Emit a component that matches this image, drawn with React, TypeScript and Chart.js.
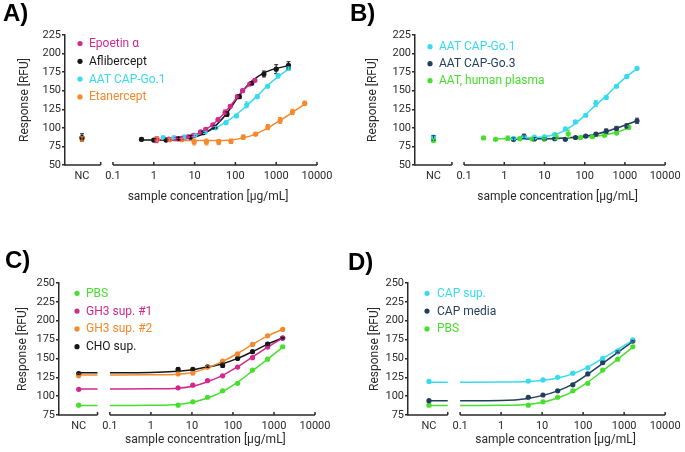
import React, { useEffect, useRef } from "react";
import { Chart, registerables } from "chart.js";

Chart.register(...registerables);

// ---------------- shared axis data ----------------
const X_TICKS = [0.1, 1, 10, 100, 1000, 10000];
const NC_LABEL = "NC";
const NC_X = 0.0174; // where the NC category sits on the log axis
const BREAK_X = 0.05; // end of the NC axis segment
const GAP_X = 0.07; // break in the fitted curves
const X_TITLE = "sample concentration [µg/mL]";
const Y_TITLE = "Response [RFU]";

// ---------------- colours ----------------
const C_MAGENTA = "#d3298d";
const C_BLACK = "#161616";
const C_CYAN = "#36dbef";
const C_ORANGE = "#f5892c";
const C_NAVY = "#233f5d";
const C_GREEN = "#47df2d";

// ---------------- Panel A ----------------
const A_EPO_X = [1.17, 2.34, 3.5, 4.7, 7, 9.4, 14, 18.8, 28, 37.5, 56, 75, 112, 150, 225, 300];
const A_EPO_Y = [84, 85, 85.5, 86, 88, 90, 94.5, 98, 104, 111, 121, 129, 142, 150, 159, 164];
const A_EPO_ERR = [4, 2, 2, 2, 2, 2, 2, 2, 2, 2, 3, 2, 2, 2, 2, 2];
const A_EPO_FIT = [84, 84.7, 85.4, 86.2, 88, 90, 94, 98, 104.5, 111, 121, 129.5, 141.5, 149.5, 158.5, 164];

const A_AFLI_X = [0.5, 1, 2, 4, 8, 16, 31.25, 62.5, 125, 250, 500, 1000, 2000];
const A_AFLI_Y = [84.5, 83.5, 83.5, 85.5, 87.5, 93.5, 100.5, 118.5, 142, 160, 172.5, 179, 184];
const A_AFLI_ERR = [2, 2, 1.5, 1.5, 2, 2, 2.5, 3, 2.5, 2, 4, 6, 5];
const A_AFLI_FIT = [83.5, 83.5, 83.8, 84.6, 86.5, 91.5, 102, 120, 144, 162.5, 174, 180, 183.5];
const A_AFLI_NC = 87;
const A_AFLI_NC_ERR = 5;

const CAP1_X = [1.7, 3.1, 5.6, 10, 18, 33, 59, 106, 190, 343, 617, 1111, 2000];
const A_CAP1_Y = [87, 87, 88, 90, 94, 100, 107, 116, 131, 142, 156, 170, 180];
const A_CAP1_ERR = [1.5, 1.5, 1.5, 1.5, 1.5, 2, 2, 2, 4, 2, 2, 3, 2];
const A_CAP1_FIT = [86.5, 87, 88, 90, 94, 100, 108, 118, 130, 143, 157, 169, 179];

const A_ETA_X = [1.22, 2.44, 4.88, 9.77, 19.5, 39, 78, 156, 312, 625, 1250, 2500, 5000];
const A_ETA_Y = [85, 84, 84, 81, 81, 81, 82, 87.5, 91.5, 101, 110, 121.5, 133];
const A_ETA_ERR = [3, 2, 2, 4, 4, 3.5, 3, 3, 1.5, 3.5, 4, 3.5, 3];
const A_ETA_FIT = [83.3, 83.2, 83, 82.9, 82.9, 83, 83.8, 86.5, 91.5, 100, 110, 121, 132];
const A_ETA_NC = 85;
const A_ETA_NC_ERR = 3;

// ---------------- Panel B ----------------
const B_CAP1_Y = [86, 87, 87.5, 88, 91, 98.5, 108, 117, 133, 141, 156, 169, 180];
const B_CAP1_ERR = [1.5, 1.5, 1.5, 1.5, 1.5, 2, 2, 2, 4, 2, 2, 2, 1.5];
const B_CAP1_FIT = [86, 86.5, 87, 88, 91, 97, 106, 118, 131, 143, 157, 169, 180];
const B_CAP1_NC = 87.5;
const B_CAP1_NC_ERR = 2;

const B_CAP3_Y = [84.5, 88.5, 85, 85.5, 85.5, 84.5, 87, 89, 91.5, 95.5, 99, 102.5, 109.5];
const B_CAP3_ERR = [2, 3, 2, 1.5, 1.5, 1.5, 1.5, 1.5, 2, 3, 3, 3, 3.5];
const B_CAP3_FIT = [85, 85.1, 85.2, 85.4, 85.8, 86.5, 87.5, 89, 91.5, 95, 99.5, 104.5, 109.5];
const B_CAP3_NC = 86.5;
const B_CAP3_NC_ERR = 3;

const B_PLASMA_X = [0.305, 0.61, 1.22, 2.44, 4.88, 9.77, 19.5, 39, 78, 156, 312, 625, 1250];
const B_PLASMA_Y = [86.5, 84.5, 86, 85.5, 85, 85, 88, 92, 87, 88, 90, 93, 100.5];
const B_PLASMA_ERR = [1.5, 1.5, 3, 1.5, 1.5, 1.5, 4, 5, 1.5, 1.5, 1.5, 2, 2];
const B_PLASMA_FIT_X = [0.61, 1.22, 2.44, 4.88, 9.77, 19.5, 39, 78, 156, 312, 625, 1250];
const B_PLASMA_FIT = [85.5, 85.5, 85.5, 85.5, 85.6, 85.8, 86.2, 87, 88.3, 90.5, 94, 100];
const B_PLASMA_NC = 83;
const B_PLASMA_NC_ERR = 2;

// ---------------- Panels C & D ----------------
const CD_X = [4.6, 10.5, 24, 56, 130, 300, 700, 1630];
const CD_FIT_X = [0.1, 1, 4.6, 10.5, 24, 56, 130, 300, 700, 1630];

const PBS_Y = [88, 92.5, 98.5, 107, 117, 134.5, 149, 165.5];
const PBS_ERR = [1, 1, 1, 1, 1, 1, 1, 1];
const PBS_NC = 88;
const PBS_FIT = [87.5, 87.8, 89, 92, 97.5, 106, 118.5, 133.5, 149, 165];
const PBS_FIT_NC = 87.5;

const C_GH1_Y = [111, 114.5, 120.5, 127, 138.5, 151, 165, 177];
const C_GH1_ERR = [1, 1, 1, 1, 1, 1, 1.5, 1];
const C_GH1_NC = 109;
const C_GH1_FIT = [109.5, 109.7, 110.5, 113, 119, 127.5, 139, 152, 165, 177];
const C_GH1_FIT_NC = 109.5;

const C_GH2_Y = [129.5, 131, 138.5, 146.5, 156, 168.5, 180, 188.5];
const C_GH2_ERR = [2, 3, 1, 1, 1, 1, 1, 1];
const C_GH2_NC = 127;
const C_GH2_FIT = [128, 128.2, 129, 131.5, 137.5, 146, 156.5, 168.5, 180, 188.5];
const C_GH2_FIT_NC = 128;

const C_CHO_Y = [135.5, 135.5, 139, 141, 150, 159, 169, 177];
const C_CHO_ERR = [2, 1.5, 1, 3, 1, 1, 2, 1];
const C_CHO_NC = 130;
const C_CHO_FIT = [131, 131.3, 133, 135, 138.5, 143, 150, 159, 169, 177];
const C_CHO_FIT_NC = 131;

const D_SUP_Y = [120, 121.5, 125, 130.5, 137.5, 150, 160, 174.5];
const D_SUP_ERR = [2, 1, 1, 1, 1, 1.5, 1, 1];
const D_SUP_NC = 119.5;
const D_SUP_FIT = [118.5, 118.7, 119.5, 121, 124, 129.5, 138.5, 150, 162, 174];
const D_SUP_FIT_NC = 118.5;

const D_MEDIA_Y = [98.5, 101.5, 107, 115, 129.5, 144.5, 159, 173];
const D_MEDIA_ERR = [1, 1, 1, 1, 1, 2, 1, 1];
const D_MEDIA_NC = 94;
const D_MEDIA_FIT = [94, 94.3, 97, 101, 107, 116, 129, 143.5, 158, 172.5];
const D_MEDIA_FIT_NC = 94;

// ---------------- specs ----------------
const FONT_FAMILY = "Roboto, 'Noto Sans', sans-serif";
const AXIS_COLOR = "#2a2a2a";
const TEXT_COLOR = "#2a2a2a";

interface SeriesSpec {
  label: string;
  color: string;
  x: number[];
  y: number[];
  err: number[];
  ncY: number | null;
  ncErr: number;
  fitX: number[];
  fitY: number[];
  fitNC: number | null;
}

interface PanelSpec {
  label: string;
  series: SeriesSpec[];
  yMin: number;
  yMax: number;
  xMin: number;
  box: { left: number; top: number; width: number; height: number };
  padL: number;
  padT: number;
  padR: number;
  titlePB: number;
  yWidth: number;
  yTitlePad: number;
  xAxisH: number;
  xTitleY: number;
  legendDot: number;
  legendText: number;
  legendY: number;
  legendGap: number;
}

const s = (
  label: string,
  color: string,
  x: number[],
  y: number[],
  err: number[],
  ncY: number | null,
  ncErr: number,
  fitX: number[],
  fitY: number[],
  fitNC: number | null
): SeriesSpec => ({ label, color, x, y, err, ncY, ncErr, fitX, fitY, fitNC });

const PANELS: PanelSpec[] = [
  {
    label: "A)",
    series: [
      s("Epoetin α", C_MAGENTA, A_EPO_X, A_EPO_Y, A_EPO_ERR, null, 0, A_EPO_X, A_EPO_FIT, null),
      s("Aflibercept", C_BLACK, A_AFLI_X, A_AFLI_Y, A_AFLI_ERR, A_AFLI_NC, A_AFLI_NC_ERR, A_AFLI_X, A_AFLI_FIT, null),
      s("AAT CAP-Go.1", C_CYAN, CAP1_X, A_CAP1_Y, A_CAP1_ERR, null, 0, CAP1_X, A_CAP1_FIT, null),
      s("Etanercept", C_ORANGE, A_ETA_X, A_ETA_Y, A_ETA_ERR, A_ETA_NC, A_ETA_NC_ERR, A_ETA_X, A_ETA_FIT, null),
    ],
    yMin: 50,
    yMax: 225,
    xMin: 0.00667,
    box: { left: 0, top: 0, width: 342, height: 226 },
    padL: 3,
    padT: 0,
    padR: 25,
    titlePB: 6.2,
    yWidth: 62,
    yTitlePad: 14.8,
    xAxisH: 61,
    xTitleY: 197,
    legendDot: 15,
    legendText: 24,
    legendY: 8.5,
    legendGap: 17.8,
  },
  {
    label: "B)",
    series: [
      s("AAT CAP-Go.1", C_CYAN, CAP1_X, B_CAP1_Y, B_CAP1_ERR, B_CAP1_NC, B_CAP1_NC_ERR, CAP1_X, B_CAP1_FIT, null),
      s("AAT CAP-Go.3", C_NAVY, CAP1_X, B_CAP3_Y, B_CAP3_ERR, B_CAP3_NC, B_CAP3_NC_ERR, CAP1_X, B_CAP3_FIT, null),
      s("AAT, human plasma", C_GREEN, B_PLASMA_X, B_PLASMA_Y, B_PLASMA_ERR, B_PLASMA_NC, B_PLASMA_NC_ERR, B_PLASMA_FIT_X, B_PLASMA_FIT, null),
    ],
    yMin: 50,
    yMax: 225,
    xMin: 0.00603,
    box: { left: 342, top: 0, width: 343, height: 226 },
    padL: 8,
    padT: 0,
    padR: 19,
    titlePB: 6.2,
    yWidth: 65,
    yTitlePad: 15.8,
    xAxisH: 61,
    xTitleY: 197,
    legendDot: 15,
    legendText: 24,
    legendY: 11.7,
    legendGap: 17,
  },
  {
    label: "C)",
    series: [
      s("PBS", C_GREEN, CD_X, PBS_Y, PBS_ERR, PBS_NC, 1, CD_FIT_X, PBS_FIT, PBS_FIT_NC),
      s("GH3 sup. #1", C_MAGENTA, CD_X, C_GH1_Y, C_GH1_ERR, C_GH1_NC, 1, CD_FIT_X, C_GH1_FIT, C_GH1_FIT_NC),
      s("GH3 sup. #2", C_ORANGE, CD_X, C_GH2_Y, C_GH2_ERR, C_GH2_NC, 1, CD_FIT_X, C_GH2_FIT, C_GH2_FIT_NC),
      s("CHO sup.", C_BLACK, CD_X, C_CHO_Y, C_CHO_ERR, C_CHO_NC, 1.5, CD_FIT_X, C_CHO_FIT, C_CHO_FIT_NC),
    ],
    yMin: 75,
    yMax: 250,
    xMin: 0.00575,
    box: { left: 0, top: 226, width: 342, height: 226 },
    padL: 5,
    padT: 21.1,
    padR: 27,
    titlePB: 7.1,
    yWidth: 54,
    yTitlePad: 10.8,
    xAxisH: 37,
    xTitleY: 214,
    legendDot: 18,
    legendText: 27,
    legendY: 10.3,
    legendGap: 17.8,
  },
  {
    label: "D)",
    series: [
      s("CAP sup.", C_CYAN, CD_X, D_SUP_Y, D_SUP_ERR, D_SUP_NC, 2, CD_FIT_X, D_SUP_FIT, D_SUP_FIT_NC),
      s("CAP media", C_NAVY, CD_X, D_MEDIA_Y, D_MEDIA_ERR, D_MEDIA_NC, 1, CD_FIT_X, D_MEDIA_FIT, D_MEDIA_FIT_NC),
      s("PBS", C_GREEN, CD_X, PBS_Y, PBS_ERR, PBS_NC, 1, CD_FIT_X, PBS_FIT, PBS_FIT_NC),
    ],
    yMin: 75,
    yMax: 250,
    xMin: 0.00537,
    box: { left: 342, top: 226, width: 343, height: 226 },
    padL: 6,
    padT: 23.1,
    padR: 19,
    titlePB: 5.1,
    yWidth: 60,
    yTitlePad: 19.8,
    xAxisH: 37,
    xTitleY: 214,
    legendDot: 19,
    legendText: 29,
    legendY: 10.3,
    legendGap: 17.8,
  },
];

// ---------------- plugin: broken x axis, error bars, legend, x title ----------------
const decorPlugin = {
  id: "decor",
  beforeDatasetsDraw(chart: any) {
    const ctx = chart.ctx as CanvasRenderingContext2D;
    const xs = chart.scales.x;
    const area = chart.chartArea;
    const y0 = area.bottom;
    ctx.save();
    ctx.strokeStyle = AXIS_COLOR;
    ctx.lineWidth = 1.5;
    ctx.lineCap = "butt";
    const bEnd = xs.getPixelForValue(BREAK_X);
    const start = xs.getPixelForValue(X_TICKS[0]);
    ctx.beginPath();
    ctx.moveTo(area.left - 0.75, y0);
    ctx.lineTo(bEnd, y0);
    ctx.moveTo(bEnd, y0);
    ctx.lineTo(bEnd, y0 - 3);
    ctx.moveTo(start, y0);
    ctx.lineTo(area.right, y0);
    for (const v of X_TICKS) {
      const px = xs.getPixelForValue(v);
      ctx.moveTo(px, y0);
      ctx.lineTo(px, y0 - 3);
    }
    ctx.stroke();
    ctx.restore();
  },
  afterDatasetsDraw(chart: any, _args: any, opts: any) {
    const ctx = chart.ctx as CanvasRenderingContext2D;
    const xs = chart.scales.x;
    const ys = chart.scales.y;
    const area = chart.chartArea;
    ctx.save();
    // error bars
    chart.data.datasets.forEach((ds: any) => {
      if (!ds.errorBars) return;
      ctx.strokeStyle = ds.backgroundColor;
      ctx.lineWidth = 1;
      ds.data.forEach((pt: any, i: number) => {
        const e = ds.errorBars[i];
        if (!e) return;
        const px = xs.getPixelForValue(pt.x);
        const yt = ys.getPixelForValue(pt.y + e);
        const yb = ys.getPixelForValue(pt.y - e);
        ctx.beginPath();
        ctx.moveTo(px, yt);
        ctx.lineTo(px, yb);
        ctx.moveTo(px - 2, yt);
        ctx.lineTo(px + 2, yt);
        ctx.moveTo(px - 2, yb);
        ctx.lineTo(px + 2, yb);
        ctx.stroke();
      });
    });
    // legend
    ctx.font = `12px ${FONT_FAMILY}`;
    ctx.textBaseline = "middle";
    ctx.textAlign = "left";
    (opts.items || []).forEach((it: any, i: number) => {
      const y = area.top + opts.legendY + i * opts.legendGap;
      ctx.fillStyle = it.color;
      ctx.beginPath();
      ctx.arc(area.left + opts.legendDot, y, 2.6, 0, Math.PI * 2);
      ctx.fill();
      ctx.fillText(it.text, area.left + opts.legendText, y + 0.5);
    });
    // x axis title, centred under the log segment
    const start = xs.getPixelForValue(X_TICKS[0]);
    ctx.fillStyle = TEXT_COLOR;
    ctx.font = `12px ${FONT_FAMILY}`;
    ctx.textAlign = "center";
    ctx.fillText(opts.xTitle, (start + area.right) / 2 - 7, opts.xTitleY);
    ctx.restore();
  },
};

function buildConfig(p: PanelSpec): any {
  const datasets: any[] = [];
  p.series.forEach((sr) => {
    const pts: any[] = [];
    const errs: number[] = [];
    if (sr.ncY !== null) {
      pts.push({ x: NC_X, y: sr.ncY });
      errs.push(sr.ncErr);
    }
    sr.x.forEach((xv, i) => {
      pts.push({ x: xv, y: sr.y[i] });
      errs.push(sr.err[i]);
    });
    datasets.push({
      type: "scatter",
      label: sr.label,
      data: pts,
      errorBars: errs,
      backgroundColor: sr.color,
      borderColor: sr.color,
      pointRadius: 2.6,
      pointBorderWidth: 0,
      showLine: false,
      order: 0,
    });
    const fit: any[] = [];
    if (sr.fitNC !== null) {
      fit.push({ x: NC_X, y: sr.fitNC }, { x: BREAK_X, y: sr.fitNC }, { x: GAP_X, y: null });
    }
    sr.fitX.forEach((xv, i) => fit.push({ x: xv, y: sr.fitY[i] }));
    datasets.push({
      type: "line",
      label: sr.label + " fit",
      data: fit,
      borderColor: sr.color,
      backgroundColor: sr.color,
      borderWidth: 1.5,
      pointRadius: 0,
      cubicInterpolationMode: "monotone",
      spanGaps: false,
      fill: false,
      order: 1,
    });
  });

  const tickFont = { family: FONT_FAMILY, size: 11 };
  return {
    type: "scatter",
    data: { datasets },
    plugins: [decorPlugin],
    options: {
      responsive: false,
      animation: false,
      devicePixelRatio: 1,
      events: [],
      layout: { padding: { left: p.padL, top: p.padT, right: p.padR, bottom: 0 } },
      plugins: {
        legend: { display: false },
        tooltip: { enabled: false },
        title: {
          display: true,
          text: p.label,
          align: "start",
          color: "#000",
          font: { family: "'Liberation Sans', Arial, sans-serif", size: 24, weight: "bold" },
          padding: { top: 0, bottom: p.titlePB },
        },
        decor: {
          items: p.series.map((sr) => ({ text: sr.label, color: sr.color })),
          legendDot: p.legendDot,
          legendText: p.legendText,
          legendY: p.legendY,
          legendGap: p.legendGap,
          xTitle: X_TITLE,
          xTitleY: p.xTitleY,
        },
      },
      scales: {
        x: {
          type: "logarithmic",
          min: p.xMin,
          max: X_TICKS[X_TICKS.length - 1],
          grid: { display: false, drawTicks: false },
          border: { display: false },
          afterBuildTicks: (sc: any) => {
            sc.ticks = [NC_X, ...X_TICKS].map((v) => ({ value: v }));
          },
          ticks: {
            autoSkip: false,
            maxRotation: 0,
            padding: 4.4,
            color: TEXT_COLOR,
            font: tickFont,
            callback: (v: number) => (v === NC_X ? NC_LABEL : String(v)),
          },
          afterFit: (sc: any) => {
            sc.height = p.xAxisH;
          },
        },
        y: {
          type: "linear",
          min: p.yMin,
          max: p.yMax,
          grid: { drawOnChartArea: false, tickLength: 3, color: AXIS_COLOR, lineWidth: 1.5 },
          border: { color: AXIS_COLOR, width: 1.5 },
          ticks: { stepSize: 25, padding: 1, color: TEXT_COLOR, font: tickFont },
          title: {
            display: true,
            text: Y_TITLE,
            color: TEXT_COLOR,
            font: { family: FONT_FAMILY, size: 12 },
            padding: { top: p.yTitlePad, bottom: 0 },
          },
          afterFit: (sc: any) => {
            sc.width = p.yWidth;
          },
        },
      },
    },
  };
}

function Panel({ spec }: { spec: PanelSpec }) {
  const ref = useRef<HTMLCanvasElement | null>(null);
  useEffect(() => {
    if (!ref.current) return;
    const chart = new Chart(ref.current, buildConfig(spec));
    return () => chart.destroy();
  }, [spec]);
  return (
    <canvas
      ref={ref}
      width={spec.box.width}
      height={spec.box.height}
      style={{
        position: "absolute",
        left: spec.box.left,
        top: spec.box.top,
        width: spec.box.width,
        height: spec.box.height,
        display: "block",
      }}
    />
  );
}

export default function App() {
  return (
    <div style={{ position: "absolute", left: 0, top: 0, width: 685, height: 452, background: "#fff" }}>
      {PANELS.map((p) => (
        <Panel key={p.label} spec={p} />
      ))}
    </div>
  );
}
